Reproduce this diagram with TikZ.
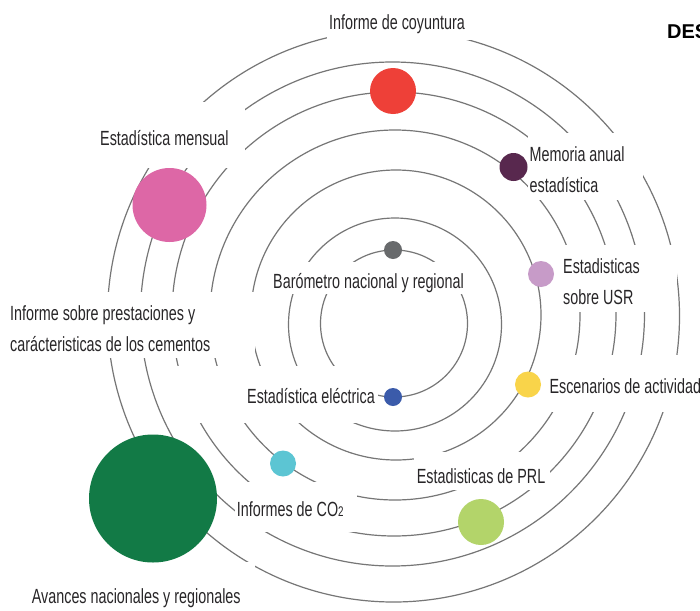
\documentclass[tikz,border=0pt]{standalone}
\usepackage{fontspec}
\setmainfont{Liberation Sans}[FakeStretch=0.70]
\newfontfamily\headfont{Liberation Sans}
\definecolor{ringgray}{RGB}{118,118,118}
\definecolor{txt}{RGB}{40,38,40}
\definecolor{cred}{RGB}{238,64,56}
\definecolor{cplum}{RGB}{88,40,78}
\definecolor{cgray}{RGB}{104,106,108}
\definecolor{cpink}{RGB}{221,103,166}
\definecolor{clilac}{RGB}{199,155,200}
\definecolor{cyellow}{RGB}{249,212,74}
\definecolor{cblue}{RGB}{59,91,170}
\definecolor{clgreen}{RGB}{179,212,106}
\definecolor{ccyan}{RGB}{92,197,211}
\definecolor{cdgreen}{RGB}{18,122,70}
\begin{document}
\begin{tikzpicture}[x=1pt,y=-1pt,
  ring/.style={draw=ringgray, line width=1.2pt},
  mask/.style={fill=white, draw=none},
  lbl/.style={inner sep=0pt, anchor=base west, text=txt, align=left,
              font=\fontsize{20.5}{30.5}\selectfont},
  dot/.style={circle, inner sep=0pt, draw=none}]
\useasboundingbox (0,0) rectangle (700,610);
\clip (0,0) rectangle (700,610);
\fill[white] (0,0) rectangle (700,610);
% orbits
\draw[ring] (394,323.5) circle[radius=73.5pt];
\draw[ring] (395,324.5) circle[radius=106.5pt];
\draw[ring] (396,315) circle[radius=145pt];
\draw[ring] (395,315) circle[radius=185pt];
\draw[ring] (394,314) circle[radius=222pt];
\draw[ring] (392.5,314) circle[radius=252pt];
\draw[ring] (393.5,316) circle[radius=286pt];
% white label backgrounds
\fill[mask] (327,0) rectangle (474,40);
\fill[mask] (95,102) rectangle (245,168);
\fill[mask] (528,133) rectangle (643,200);
\fill[mask] (560,245) rectangle (677,312);
\fill[mask] (268,262) rectangle (467,294);
\fill[mask] (0,292) rectangle (255,358);
\fill[mask] (172,366) rectangle (378,423);
\fill[mask] (547,355) rectangle (700,412);
\fill[mask] (414,452) rectangle (550,490);
\fill[mask] (235,482) rectangle (357,532);
\fill[mask] (0,562) rectangle (255,610);
% labels (multi-line nodes: base = baseline of last line)
\node[lbl] (tcoy) at (329,30) {Informe de coyuntura};
\node[lbl] (tmen) at (100,145) {Estadística mensual};
\node[lbl] (tmem) at (529.5,192) {Memoria anual\\estadística};
\node[lbl] (tusr) at (563,304) {Estadisticas\\sobre USR};
\node[lbl] (tbar) at (273,288) {Barómetro nacional y regional};
\node[lbl] (tpre) at (10,351) {Informe sobre prestaciones y\\carácteristicas de los cementos};
\node[lbl] (tele) at (247,403.3) {Estadística eléctrica};
\node[lbl] (tesc) at (549.3,393.3) {Escenarios de actividad};
\node[lbl] (tprl) at (416.7,483.3) {Estadisticas de PRL};
\node[lbl] (tco) at (236.7,516.7) {Informes de CO{\fontsize{14}{14}\selectfont 2}};
\node[lbl] (tava) at (31.7,603) {Avances nacionales y regionales};
\node[inner sep=0pt, anchor=base west, text=black,
      font=\headfont\bfseries\fontsize{20}{20}\selectfont] (tde) at (667,38.5) {DES};
% dots
\node[dot, fill=cred, minimum size=46pt] (dcoy) at (393,91) {};
\node[dot, fill=cplum, minimum size=28pt] (dmem) at (513.5,167) {};
\node[dot, fill=cgray, minimum size=18pt] (dbar) at (393,250) {};
\node[dot, fill=cpink, minimum size=74pt] (dmen) at (169.5,205) {};
\node[dot, fill=clilac, minimum size=26pt] (dusr) at (541,274) {};
\node[dot, fill=cyellow, minimum size=26pt] (desc) at (528,384.5) {};
\node[dot, fill=cblue, minimum size=18pt] (dele) at (393,397) {};
\node[dot, fill=clgreen, minimum size=46pt] (dprl) at (481,522) {};
\node[dot, fill=ccyan, minimum size=26pt] (dco) at (283,463.5) {};
\node[dot, fill=cdgreen, minimum size=128pt] (dava) at (153,498.5) {};
\end{tikzpicture}
\end{document}
